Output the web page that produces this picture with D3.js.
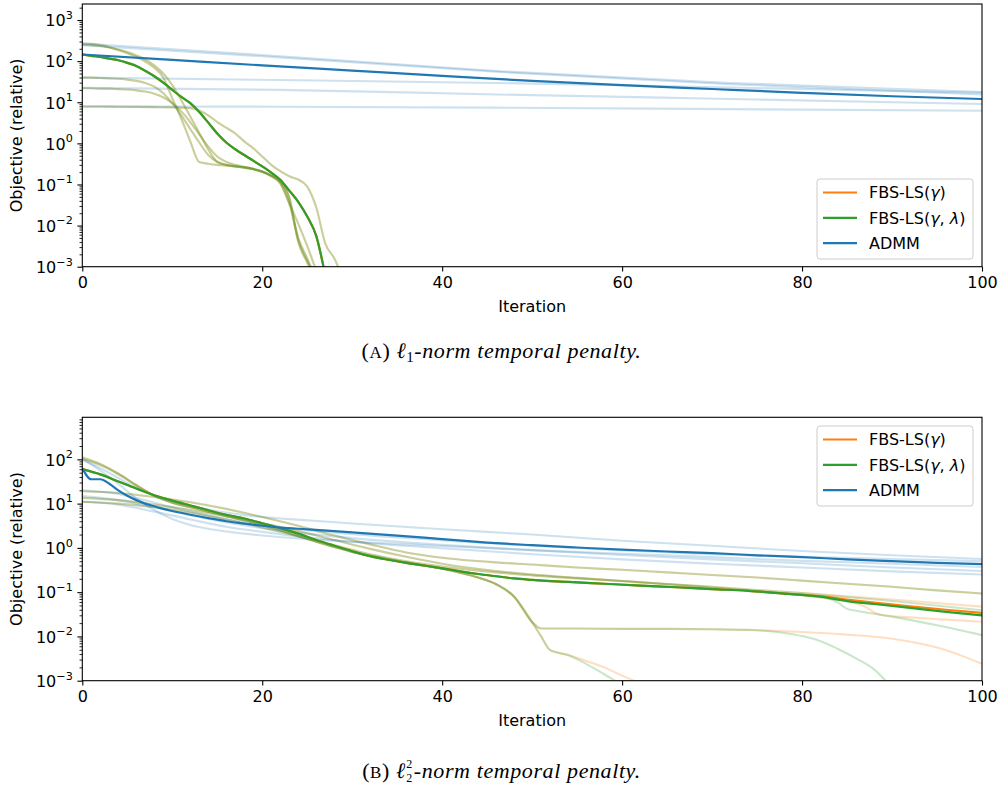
<!DOCTYPE html>
<html>
<head>
<meta charset="utf-8">
<script src="https://cdn.jsdelivr.net/npm/d3@7"></script>
<style>
  body { margin: 0; background: #fff; }
  svg text { font-family: "DejaVu Sans", sans-serif; fill: #000; }
</style>
</head>
<body>
<svg id="fig" width="1003" height="787"></svg>
<script>
// ---------- legend / axes text ----------
const methodNames = ["FBS-LS(γ)", "FBS-LS(γ, λ)", "ADMM"];
const xTickValues = [0, 20, 40, 60, 80, 100];
const yTickExponents = [-3, -2, -1, 0, 1, 2, 3];

// ---------- (A) l1-norm temporal penalty: [iteration, relative objective] ----------
const l1AdmmMain = [[0,145],[10,107],[20,79],[30,59],[40,44],[50,33],[60,26],[70,21],[80,17],[90,14],[100,12]];
const l1AdmmRun1 = [[0,269],[22,132],[46,57.5],[72,29.5],[100,17.8]];
const l1AdmmRun2 = [[0,245],[22,123],[46,55],[72,27.5],[100,15.5]];
const l1AdmmRun3 = [[0,39.8],[22,34.7],[46,29.5],[72,22.9],[100,17.0]];
const l1AdmmRun4 = [[0,22.4],[22,20.0],[46,15.5],[72,12.0],[100,9.1]];
const l1AdmmRun5 = [[0,7.9],[22,7.8],[46,7.4],[72,6.8],[100,6.2]];

const l1FbsMain = [[0,145],[1,135],[2,126],[3,115],[4,105],[5,91],[6,76],[7,58],[8,43],[9,30],[10,20],[11,13.5],[12,9.5],[13,5.8],[14,3.2],[15,1.74],[16,1.05],[17,0.72],[18,0.52],[19,0.38],[20,0.275],[21,0.195],[22,0.13],[23,0.071],[24,0.038],[25,0.0166],[26,0.0056],[27,0.00063]];
const l1FbsRun1 = [[0,269],[1,263],[2,245],[3,219],[4,186],[5,155],[6,126],[7,98],[8,69],[9,40],[10,12.6],[11,4.0],[12,1.12],[13,0.35],[14,0.32],[15,0.30],[16,0.29],[17,0.275],[18,0.257],[19,0.234],[20,0.204],[21,0.166],[22,0.112],[23,0.035],[24,0.005],[25,0.0016],[26,0.0005]];
const l1FbsRun2 = [[0,251],[1,245],[2,234],[3,214],[4,191],[5,166],[6,138],[7,110],[8,79],[9,50],[10,26],[11,11.2],[12,4.5],[13,1.78],[14,0.71],[15,0.355],[16,0.30],[17,0.28],[18,0.263],[19,0.24],[20,0.209],[21,0.166],[22,0.12],[23,0.05],[24,0.0045],[25,0.0014],[26,0.0005]];
const l1FbsRun3 = [[0,39.8],[1,39.8],[2,38.9],[3,38.0],[4,37.2],[5,35.5],[6,33.1],[7,29.5],[8,24.0],[9,16.6],[10,9.5],[11,4.8],[12,2.24],[13,1.05],[14,0.52],[15,0.355],[16,0.30],[17,0.275],[18,0.257],[19,0.234],[20,0.204],[21,0.162],[22,0.117],[23,0.045],[24,0.004],[25,0.00126],[26,0.0005]];
const l1FbsRun4 = [[0,21.9],[1,21.9],[2,21.4],[3,21.4],[4,20.9],[5,20.4],[6,19.5],[7,18.2],[8,16.2],[9,13.2],[10,9.5],[11,6.0],[12,3.3],[13,1.66],[14,0.83],[15,0.48],[16,0.355],[17,0.30],[18,0.27],[19,0.24],[20,0.204],[21,0.158],[22,0.105],[23,0.035],[24,0.0112],[25,0.0032],[26,0.0008]];
const l1FbsRun5 = [[0,7.9],[2,7.9],[4,7.8],[6,7.7],[8,7.6],[10,7.5],[11,7.4],[12,7.2],[13,6.3],[14,4.8],[15,3.3],[16,2.4],[17,1.74],[18,1.12],[19,0.76],[20,0.48],[21,0.30],[22,0.21],[23,0.158],[24,0.132],[25,0.089],[26,0.028],[27,0.0037],[28,0.0016],[29,0.0005]];

// ---------- (B) squared l2-norm temporal penalty ----------
const l2AdmmMain = [[0,63],[1,35.5],[2,35.5],[3,28.2],[4,20],[5,15.1],[6,12.0],[7,10],[8,8.7],[9,7.6],[10,6.8],[12,5.6],[14,4.7],[16,4.0],[18,3.55],[20,3.16],[22,2.88],[25,2.63],[28,2.4],[30,2.24],[35,1.9],[40,1.58],[45,1.32],[50,1.15],[55,1.02],[60,0.91],[65,0.83],[70,0.76],[75,0.68],[80,0.62],[85,0.55],[90,0.50],[95,0.46],[100,0.43]];
const l2AdmmRun1 = [[0,105],[2,56],[4,28],[6,13.2],[8,7.1],[10,4.5],[12,3.3],[14,2.7],[16,2.34],[18,2.1],[20,1.9],[25,1.58],[30,1.38],[40,1.10],[50,0.89],[60,0.74],[70,0.62],[80,0.51],[90,0.44],[100,0.37]];
const l2AdmmRun2 = [[0,95],[2,63],[4,38],[6,23],[8,15.1],[10,11.2],[12,8.9],[14,7.4],[16,6.3],[18,5.5],[20,5.0],[25,4.2],[30,3.55],[40,2.63],[50,2.0],[60,1.45],[70,1.12],[80,0.85],[90,0.68],[100,0.56]];
const l2AdmmRun3 = [[0,20],[4,16.6],[8,10.5],[12,6.6],[16,4.5],[20,3.3],[25,2.5],[30,2.04],[40,1.48],[50,1.12],[60,0.87],[70,0.72],[80,0.63],[90,0.56],[100,0.50]];
const l2AdmmRun4 = [[0,14.8],[4,12.0],[8,8.3],[12,5.5],[16,3.8],[20,2.8],[25,2.1],[30,1.66],[40,1.17],[50,0.89],[60,0.69],[70,0.55],[80,0.45],[90,0.36],[100,0.30]];
const l2AdmmRun5 = [[0,11],[4,9.5],[8,6.6],[12,4.4],[16,3.0],[20,2.3],[25,1.74],[30,1.38],[40,0.98],[50,0.72],[60,0.55],[70,0.44],[80,0.36],[90,0.295],[100,0.25]];

const l2FbsLambdaMain = [[0,60],[2,45.7],[4,31.6],[6,21.9],[8,15.5],[10,11.7],[12,9.1],[14,7.1],[16,5.6],[18,4.6],[20,3.6],[22,2.8],[24,2.1],[26,1.51],[28,1.12],[30,0.84],[32,0.65],[34,0.54],[36,0.46],[38,0.40],[40,0.345],[42,0.295],[44,0.257],[46,0.229],[48,0.204],[50,0.19],[54,0.17],[58,0.155],[62,0.141],[66,0.129],[70,0.117],[74,0.107],[78,0.093],[82,0.079],[85,0.063],[88,0.054],[92,0.044],[96,0.036],[100,0.030]];
const l2FbsGammaMain = [[0,60],[2,45.7],[4,31.6],[6,21.9],[8,15.5],[10,11.7],[12,9.1],[14,7.1],[16,5.6],[18,4.6],[20,3.6],[22,2.8],[24,2.1],[26,1.51],[28,1.12],[30,0.84],[32,0.65],[34,0.54],[36,0.46],[38,0.40],[40,0.345],[42,0.295],[44,0.257],[46,0.229],[48,0.204],[50,0.19],[54,0.17],[58,0.155],[62,0.141],[66,0.129],[70,0.117],[74,0.107],[78,0.093],[82,0.081],[85,0.068],[88,0.058],[92,0.048],[96,0.040],[100,0.034]];

const l2FbsRun1Gamma = [[0,112],[2,79],[4,48],[6,26],[8,15.1],[10,10.5],[12,8.3],[14,6.6],[16,5.2],[18,4.2],[20,3.3],[22,2.5],[24,1.86],[26,1.38],[28,1.05],[30,0.81],[32,0.66],[34,0.55],[36,0.47],[38,0.40],[40,0.34],[42,0.275],[44,0.214],[46,0.151],[48,0.079],[50,0.021],[51,0.010],[52,0.0049],[54,0.0038],[56,0.0028],[58,0.002],[60,0.0013],[62,0.00089]];
const l2FbsRun1Lambda = [[0,112],[2,79],[4,48],[6,26],[8,15.1],[10,10.5],[12,8.3],[14,6.6],[16,5.2],[18,4.2],[20,3.3],[22,2.5],[24,1.86],[26,1.38],[28,1.05],[30,0.81],[32,0.66],[34,0.55],[36,0.47],[38,0.40],[40,0.34],[42,0.275],[44,0.214],[46,0.151],[48,0.079],[50,0.021],[51,0.010],[52,0.0049],[54,0.0038],[56,0.0024],[58,0.0014],[60,0.0008]];
const l2FbsRun2Gamma = [[0,100],[2,74],[4,46],[6,26],[8,15.1],[10,10.5],[12,8.3],[14,6.6],[16,5.2],[18,4.2],[20,3.3],[22,2.5],[24,1.86],[26,1.38],[28,1.05],[30,0.81],[32,0.66],[34,0.55],[36,0.47],[38,0.40],[40,0.34],[42,0.275],[44,0.214],[46,0.151],[48,0.079],[50,0.021],[51,0.0151],[55,0.0151],[60,0.0148],[65,0.0148],[70,0.0145],[75,0.0138],[80,0.0126],[85,0.011],[90,0.0089],[95,0.0056],[98,0.0035],[100,0.0024]];
const l2FbsRun2Lambda = [[0,100],[2,74],[4,46],[6,26],[8,15.1],[10,10.5],[12,8.3],[14,6.6],[16,5.2],[18,4.2],[20,3.3],[22,2.5],[24,1.86],[26,1.38],[28,1.05],[30,0.81],[32,0.66],[34,0.55],[36,0.47],[38,0.40],[40,0.34],[42,0.275],[44,0.214],[46,0.151],[48,0.079],[50,0.021],[51,0.0151],[55,0.0151],[60,0.0148],[65,0.0148],[70,0.0145],[75,0.0138],[78,0.012],[80,0.0102],[82,0.0079],[84,0.0052],[86,0.0032],[88,0.0018],[89.5,0.0009]];
const l2FbsRun3 = [[0,19],[4,17.4],[8,14.1],[12,10.7],[16,7.6],[20,5.0],[24,3.16],[28,1.9],[32,1.2],[36,0.79],[40,0.60],[46,0.47],[50,0.42],[55,0.36],[60,0.32],[65,0.28],[70,0.245],[75,0.214],[80,0.182],[85,0.155],[90,0.132],[95,0.11],[100,0.093]];
const l2FbsRun4Gamma = [[0,13.5],[4,12.0],[8,9.5],[12,7.2],[16,5.2],[20,3.6],[24,2.4],[28,1.51],[32,0.95],[36,0.63],[40,0.44],[46,0.30],[50,0.25],[55,0.21],[60,0.178],[65,0.151],[70,0.126],[75,0.105],[80,0.085],[83,0.071],[85,0.063],[86,0.056],[87,0.047],[88,0.035],[89,0.030],[92,0.027],[96,0.024],[100,0.0214]];
const l2FbsRun4Lambda = [[0,13.5],[4,12.0],[8,9.5],[12,7.2],[16,5.2],[20,3.6],[24,2.4],[28,1.51],[32,0.95],[36,0.63],[40,0.44],[46,0.30],[50,0.25],[55,0.21],[60,0.178],[65,0.151],[70,0.126],[75,0.105],[80,0.085],[83,0.071],[84,0.058],[85,0.042],[86,0.038],[90,0.028],[95,0.0178],[100,0.0107]];
const l2FbsRun5Gamma = [[0,11],[4,10],[8,8.3],[12,6.3],[16,4.4],[20,2.9],[24,1.82],[28,1.15],[32,0.72],[36,0.50],[40,0.38],[46,0.28],[50,0.24],[60,0.178],[70,0.132],[80,0.095],[90,0.068],[100,0.047]];
const l2FbsRun5Lambda = [[0,11],[4,10],[8,8.3],[12,6.3],[16,4.4],[20,2.9],[24,1.82],[28,1.15],[32,0.72],[36,0.50],[40,0.38],[46,0.28],[50,0.24],[60,0.178],[70,0.132],[80,0.095],[90,0.063],[100,0.039]];

// ---------- figure ----------
const COLORS = { gamma: "#ff7f0e", lambda: "#2ca02c", admm: "#1f77b4" };
const FONT = 16;
const svg = d3.select("#fig");
const plotLeft = 82.3, plotRight = 982;

const panelSpecs = [
  {
    top: 4, bottom: 266.7, yMax: Math.pow(10, 3.39),
    admmRuns: [l1AdmmRun1, l1AdmmRun2, l1AdmmRun3, l1AdmmRun4, l1AdmmRun5],
    gammaRuns: [l1FbsRun1, l1FbsRun2, l1FbsRun3, l1FbsRun4, l1FbsRun5],
    lambdaRuns: [l1FbsRun1, l1FbsRun2, l1FbsRun3, l1FbsRun4, l1FbsRun5],
    gammaMain: l1FbsMain, lambdaMain: l1FbsMain, admmMain: l1AdmmMain,
    legendTop: 179, xLabelY: 312
  },
  {
    top: 417.3, bottom: 680.7, yMax: Math.pow(10, 2.95),
    admmRuns: [l2AdmmRun1, l2AdmmRun2, l2AdmmRun3, l2AdmmRun4, l2AdmmRun5],
    gammaRuns: [l2FbsRun1Gamma, l2FbsRun2Gamma, l2FbsRun3, l2FbsRun4Gamma, l2FbsRun5Gamma],
    lambdaRuns: [l2FbsRun1Lambda, l2FbsRun2Lambda, l2FbsRun3, l2FbsRun4Lambda, l2FbsRun5Lambda],
    gammaMain: l2FbsGammaMain, lambdaMain: l2FbsLambdaMain, admmMain: l2AdmmMain,
    legendTop: 426, xLabelY: 726
  }
];

function drawPanel(spec, idx) {
  const x = d3.scaleLinear().domain([0, 100]).range([plotLeft, plotRight]);
  const y = d3.scaleLog().domain([1e-3, spec.yMax]).range([spec.bottom, spec.top]);

  const clipId = "plot-clip-" + idx;
  svg.append("clipPath").attr("id", clipId)
    .append("rect")
    .attr("x", plotLeft).attr("y", spec.top)
    .attr("width", plotRight - plotLeft).attr("height", spec.bottom - spec.top);

  const line = d3.line()
    .x(d => x(d[0]))
    .y(d => y(d[1]))
    .curve(d3.curveMonotoneX);

  const plot = svg.append("g").attr("clip-path", `url(#${clipId})`);

  const faint = (runs, color, opacity) => {
    runs.forEach(run => {
      plot.append("path").attr("d", line(run))
        .attr("fill", "none").attr("stroke", color)
        .attr("stroke-opacity", opacity).attr("stroke-width", 2.1)
        .attr("stroke-linejoin", "round");
    });
  };
  faint(spec.gammaRuns, COLORS.gamma, 0.25);
  faint(spec.lambdaRuns, COLORS.lambda, 0.25);
  faint(spec.admmRuns, COLORS.admm, 0.22);

  [[spec.gammaMain, COLORS.gamma], [spec.lambdaMain, COLORS.lambda], [spec.admmMain, COLORS.admm]]
    .forEach(([data, color]) => {
      plot.append("path").attr("d", line(data))
        .attr("fill", "none").attr("stroke", color)
        .attr("stroke-width", 2.2).attr("stroke-linejoin", "round");
    });

  // x axis
  const xAxis = d3.axisBottom(x).tickValues(xTickValues).tickSize(4.9).tickSizeOuter(0);
  const gx = svg.append("g").attr("transform", `translate(0,${spec.bottom})`).call(xAxis);
  gx.select(".domain").remove();
  gx.selectAll(".tick line").attr("stroke", "#000").attr("stroke-width", 1.1);
  gx.selectAll(".tick text").attr("font-size", FONT).attr("dy", null).attr("y", 21.8)
    .style("font-family", "'DejaVu Sans', sans-serif");

  // y axis: majors with 10^k labels, minors without labels
  const [lo, hi] = y.domain();
  const majors = yTickExponents.map(e => Math.pow(10, e)).filter(v => v >= lo * 0.999 && v <= hi);
  const minors = [];
  for (let e = -3; e <= 3; e++) {
    for (let m = 2; m <= 9; m++) {
      const v = m * Math.pow(10, e);
      if (v <= hi) minors.push(v);
    }
  }
  const gyMinor = svg.append("g").attr("transform", `translate(${plotLeft},0)`)
    .call(d3.axisLeft(y).tickValues(minors).tickSize(2.8).tickSizeOuter(0).tickFormat(""));
  gyMinor.select(".domain").remove();
  gyMinor.selectAll(".tick line").attr("stroke", "#000").attr("stroke-width", 0.85);

  const gy = svg.append("g").attr("transform", `translate(${plotLeft},0)`)
    .call(d3.axisLeft(y).tickValues(majors).tickSize(4.9).tickSizeOuter(0).tickFormat(""));
  gy.select(".domain").remove();
  gy.selectAll(".tick line").attr("stroke", "#000").attr("stroke-width", 1.1);
  gy.selectAll(".tick").each(function (d) {
    const e = Math.round(Math.log10(d));
    const t = d3.select(this).append("text")
      .attr("x", -9.5).attr("y", 5.8).attr("text-anchor", "end")
      .attr("font-size", FONT);
    t.append("tspan").text("10");
    t.append("tspan").attr("font-size", 11.2).attr("dy", -7.5)
      .text(e < 0 ? "\u2212" + Math.abs(e) : String(e));
  });

  // frame
  svg.append("rect")
    .attr("x", plotLeft).attr("y", spec.top)
    .attr("width", plotRight - plotLeft).attr("height", spec.bottom - spec.top)
    .attr("fill", "none").attr("stroke", "#000").attr("stroke-width", 1.1);

  // axis labels
  svg.append("text").attr("x", (plotLeft + plotRight) / 2).attr("y", spec.xLabelY)
    .attr("text-anchor", "middle").attr("font-size", FONT).text("Iteration");
  const cy = (spec.top + spec.bottom) / 2;
  svg.append("text").attr("transform", `translate(22,${cy}) rotate(-90)`)
    .attr("text-anchor", "middle").attr("font-size", FONT).text("Objective (relative)");

  // legend
  const lg = svg.append("g");
  lg.append("rect").attr("x", 817).attr("y", spec.legendTop).attr("width", 156).attr("height", 80)
    .attr("rx", 3).attr("fill", "#fff").attr("fill-opacity", 0.8)
    .attr("stroke", "#cccccc").attr("stroke-width", 1);
  const legendColors = [COLORS.gamma, COLORS.lambda, COLORS.admm];
  methodNames.forEach((name, i) => {
    const ry = spec.legendTop + 13.5 + i * 25.3;
    lg.append("line").attr("x1", 823).attr("x2", 857).attr("y1", ry).attr("y2", ry)
      .attr("stroke", legendColors[i]).attr("stroke-width", 2.2);
    const t = lg.append("text").attr("x", 869).attr("y", ry + 5.8).attr("font-size", FONT);
    // Greek letters in italic, as mathtext would set them
    name.split(/([γλ])/).forEach(part => {
      if (!part) return;
      const ts = t.append("tspan").text(part);
      if (part === "γ" || part === "λ") ts.attr("font-style", "italic");
    });
  });
}

panelSpecs.forEach(drawPanel);

// captions
function caption(baseY, letter, withSquare) {
  const g = svg.append("g");
  const t = g.append("text").attr("x", 501.5).attr("y", baseY)
    .attr("text-anchor", "middle")
    .style("font-family", "'Liberation Serif', 'DejaVu Serif', serif")
    .style("letter-spacing", "0.6px")
    .attr("font-size", 22);
  t.append("tspan").text("(");
  t.append("tspan").attr("font-size", 17).text(letter);
  t.append("tspan").text(") ");
  const ell = t.append("tspan").attr("font-style", "italic").text("ℓ");
  if (withSquare) {
    // room for the stacked 2 / 2 placed after layout
    t.append("tspan").attr("dx", 8).attr("font-style", "italic").text("-norm temporal penalty.");
    const box = ell.node().getExtentOfChar ? null : null;
    // locate the end of the ell glyph to stack the script digits
    const endX = t.node().getEndPositionOfChar(4).x;
    g.append("text").attr("x", endX + 0.5).attr("y", baseY - 10)
      .style("font-family", "'Liberation Serif', serif").attr("font-size", 12).text("2");
    g.append("text").attr("x", endX + 0.5).attr("y", baseY + 4)
      .style("font-family", "'Liberation Serif', serif").attr("font-size", 12).text("2");
  } else {
    t.append("tspan").attr("font-size", 15).attr("dy", 4).text("1");
    t.append("tspan").attr("dy", -4).attr("font-style", "italic").text("-norm temporal penalty.");
  }
}
caption(358, "A", false);
caption(777.5, "B", true);
</script>
</body>
</html>
